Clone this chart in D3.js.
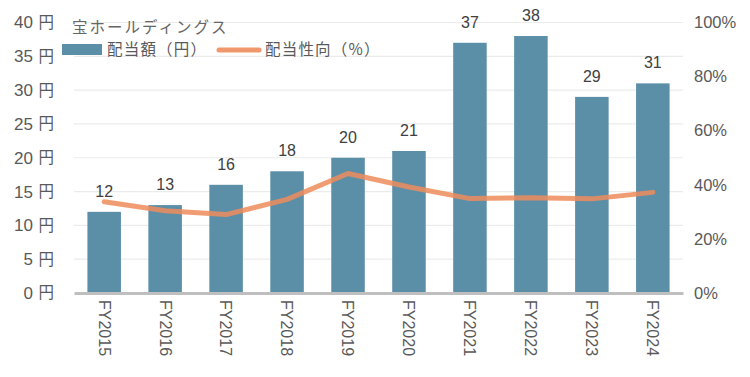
<!DOCTYPE html>
<html><head><meta charset="utf-8">
<script src="https://cdn.jsdelivr.net/npm/d3@7"></script>
<style>body{margin:0;background:#fff;}</style>
</head><body><svg id="c" width="750" height="377"></svg>
<script>
const categories=["FY2015","FY2016","FY2017","FY2018","FY2019","FY2020","FY2021","FY2022","FY2023","FY2024"];
const dividends=[12,13,16,18,20,21,37,38,29,31];
const payoutRatio=[33.7,30.4,29.0,34.6,44.2,39.2,34.9,35.2,34.8,37.2];
const leftTicks=[0,5,10,15,20,25,30,35,40];
const rightTicks=[0,20,40,60,80,100];
const title="宝ホールディングス";
const legendLabels=["配当額（円）","配当性向（%）"];

const LAT="Liberation Sans, Arial, sans-serif";
const CJK="Noto Sans CJK JP, sans-serif";
const svg=d3.select("#c");
const L=74,R=683,T=22.5,B=293;
const x=d3.scaleBand().domain(categories).range([L,R]).paddingInner(0.45).paddingOuter(0.22);
const y=d3.scaleLinear().domain([0,40]).range([B,T]);
const y2=d3.scaleLinear().domain([0,100]).range([B,T]);
const txt="#595959";

svg.append("g").selectAll("line").data(leftTicks.slice(1)).join("line")
  .attr("x1",L).attr("x2",R).attr("y1",d=>y(d)).attr("y2",d=>y(d))
  .attr("stroke","#ebebeb").attr("stroke-width",1.2);

const ya=svg.append("g").attr("transform",`translate(${L},0)`)
  .call(d3.axisLeft(y).tickValues(leftTicks).tickSize(0).tickPadding(18).tickFormat(d=>d));
ya.select(".domain").remove();
ya.selectAll("text").attr("fill",txt).attr("font-size",17).attr("font-family",LAT).attr("x",-41);
ya.selectAll(".tick").append("text").attr("dy","0.32em").attr("fill",txt)
  .attr("font-size",15.5).attr("font-family",CJK).attr("text-anchor","end").attr("x",-20).text("円");

const yb=svg.append("g").attr("transform",`translate(${R},0)`)
  .call(d3.axisRight(y2).tickValues(rightTicks).tickSize(0).tickPadding(11).tickFormat(d=>d+"%"));
yb.select(".domain").remove();
yb.selectAll("text").attr("fill",txt).attr("font-size",16.5).attr("font-family",LAT);

svg.append("g").selectAll("rect").data(dividends).join("rect")
  .attr("x",(d,i)=>x(categories[i])).attr("width",x.bandwidth())
  .attr("y",d=>y(d)).attr("height",d=>B-y(d)).attr("fill","#5b8fa8");

svg.append("g").selectAll("text").data(dividends).join("text")
  .attr("x",(d,i)=>x(categories[i])+x.bandwidth()/2).attr("y",d=>y(d)-15)
  .attr("text-anchor","middle").attr("font-size",16).attr("fill","#404040")
  .attr("font-family",LAT).text(d=>d);

const xa=svg.append("g").attr("transform",`translate(0,${B})`)
  .call(d3.axisBottom(x).tickSize(0).tickPadding(0));
xa.select(".domain").attr("stroke","#bfbfbf").attr("stroke-width",3);
xa.selectAll("text").attr("fill",txt).attr("font-size",16).attr("font-family",LAT)
  .attr("text-anchor","start").attr("dy","0.35em")
  .attr("transform","translate(0,7) rotate(90)");

const line=d3.line().x((d,i)=>x(categories[i])+x.bandwidth()/2).y(d=>y2(d));
svg.append("path").datum(payoutRatio).attr("d",line).attr("fill","none")
  .attr("stroke","#ee8c5c").attr("stroke-opacity",0.85).attr("stroke-width",5)
  .attr("stroke-linecap","round").attr("stroke-linejoin","round");

svg.append("text").attr("x",72).attr("y",33).attr("font-size",15.5).attr("font-family",CJK).attr("fill","#666").attr("letter-spacing",2).text(title);
svg.append("rect").attr("x",62).attr("y",44).attr("width",40).attr("height",11).attr("fill","#5b8fa8");
svg.append("text").attr("x",107).attr("y",55).attr("font-size",15.5).attr("font-family",CJK).attr("fill",txt).attr("letter-spacing",1.2).text(legendLabels[0]);
svg.append("line").attr("x1",219).attr("x2",259).attr("y1",50).attr("y2",50).attr("stroke","#ee8c5c").attr("stroke-opacity",0.9).attr("stroke-width",5).attr("stroke-linecap","round");
svg.append("text").attr("x",265).attr("y",55).attr("font-size",15.5).attr("font-family",CJK).attr("fill",txt).attr("letter-spacing",1.2).text(legendLabels[1]);
</script></body></html>
